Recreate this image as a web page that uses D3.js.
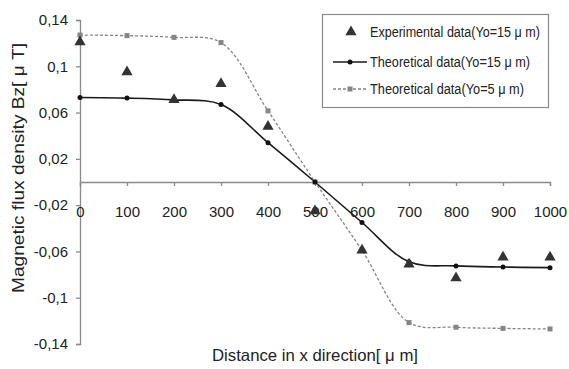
<!DOCTYPE html>
<html>
<head>
<meta charset="utf-8">
<script src="https://cdn.jsdelivr.net/npm/d3@7"></script>
<style>
  html, body { margin: 0; padding: 0; background: #fff; }
  svg text { font-family: "Liberation Sans", sans-serif; fill: #222; }
</style>
</head>
<body>
<div id="chart"></div>
<script>
// x positions (um)
const distances = [0, 100, 200, 300, 400, 500, 600, 700, 800, 900, 1000];

// Bz values (uT)
const experimental15 = [0.121, 0.095, 0.071, 0.085, 0.048, -0.025, -0.059, -0.071, -0.083, -0.065, -0.065];
const theoretical15 = [0.073, 0.0725, 0.071, 0.067, 0.034, 0, -0.035, -0.069, -0.0725, -0.0735, -0.074];
const theoretical5 = [0.127, 0.1265, 0.125, 0.1205, 0.0615, 0, -0.059, -0.1215, -0.1255, -0.1265, -0.127];

const yTicks = [0.14, 0.1, 0.06, 0.02, -0.02, -0.06, -0.1, -0.14];
const xTicks = [0, 100, 200, 300, 400, 500, 600, 700, 800, 900, 1000];

const legendLabels = [
    "Experimental data(Yo=15 \u03bc m)",
    "Theoretical data(Yo=15 \u03bc m)",
    "Theoretical data(Yo=5 \u03bc m)"
];

const width = 569;
const height = 369;
const margin = { top: 20, right: 19, bottom: 25, left: 80 };

const svg = d3.select("#chart")
    .append("svg")
    .attr("width", width)
    .attr("height", height);

const x = d3.scaleLinear()
    .domain([0, 1000])
    .range([margin.left, width - margin.right]);

const y = d3.scaleLinear()
    .domain([-0.14, 0.14])
    .range([height - margin.bottom, margin.top]);

const axisColor = "#8a8a8a";
const fmt = d => String(d).replace(".", ",");

// y axis on the left
const yAxis = svg.append("g")
    .attr("transform", `translate(${margin.left},0)`)
    .call(d3.axisLeft(y).tickValues(yTicks).tickFormat(fmt).tickSize(4).tickPadding(8));
yAxis.selectAll("text").style("font-size", "15px");

// x axis runs along the zero line, labels pushed below
const xAxis = svg.append("g")
    .attr("transform", `translate(0,${y(0)})`)
    .call(d3.axisBottom(x).tickValues(xTicks).tickFormat(d3.format("d")).tickSize(4).tickPadding(20));
xAxis.selectAll("text").style("font-size", "15px");

svg.selectAll(".domain, .tick line")
    .attr("stroke", axisColor)
    .attr("stroke-width", 1.3);

// lines
const line = d3.line()
    .x((d, i) => x(distances[i]))
    .y(d => y(d))
    .curve(d3.curveCatmullRom.alpha(0.5));

svg.append("path")
    .attr("d", line(theoretical5))
    .attr("fill", "none")
    .attr("stroke", "#858585")
    .attr("stroke-width", 1.3)
    .attr("stroke-dasharray", "3,2");

svg.append("path")
    .attr("d", line(theoretical15))
    .attr("fill", "none")
    .attr("stroke", "#1a1a1a")
    .attr("stroke-width", 1.6);

// markers
svg.selectAll(".sq")
    .data(theoretical5)
    .enter().append("rect")
    .attr("class", "sq")
    .attr("x", (d, i) => x(distances[i]) - 2.5)
    .attr("y", d => y(d) - 2.5)
    .attr("width", 5)
    .attr("height", 5)
    .attr("fill", "#858585");

svg.selectAll(".dot")
    .data(theoretical15)
    .enter().append("circle")
    .attr("class", "dot")
    .attr("cx", (d, i) => x(distances[i]))
    .attr("cy", d => y(d))
    .attr("r", 2.5)
    .attr("fill", "#111");

const tri = d3.symbol().type(d3.symbolTriangle).size(55);
svg.selectAll(".tri")
    .data(experimental15)
    .enter().append("path")
    .attr("class", "tri")
    .attr("transform", (d, i) => `translate(${x(distances[i])},${y(d)})`)
    .attr("d", tri)
    .attr("fill", "#333");

// axis titles
svg.append("text")
    .attr("transform", `translate(24,168) rotate(-90)`)
    .attr("text-anchor", "middle")
    .style("font-size", "16.5px")
    .attr("textLength", 250)
    .attr("lengthAdjust", "spacingAndGlyphs")
    .text("Magnetic flux density Bz[ \u03bc T]");

svg.append("text")
    .attr("x", 315)
    .attr("y", 361)
    .attr("text-anchor", "middle")
    .style("font-size", "16.5px")
    .attr("textLength", 206)
    .attr("lengthAdjust", "spacingAndGlyphs")
    .text("Distance in x direction[ \u03bc m]");

// legend
const legend = svg.append("g");
legend.append("rect")
    .attr("x", 322.5)
    .attr("y", 14.5)
    .attr("width", 226)
    .attr("height", 93)
    .attr("fill", "#fff")
    .attr("stroke", axisColor)
    .attr("stroke-width", 1.2);

const rows = [32, 62, 89];
const legendWidths = [170, 160, 154];
legendLabels.forEach((label, i) => {
    const ry = rows[i];
    if (i === 0) {
        legend.append("path")
            .attr("transform", `translate(351,${ry})`)
            .attr("d", tri)
            .attr("fill", "#333");
    } else if (i === 1) {
        legend.append("line")
            .attr("x1", 333).attr("x2", 367).attr("y1", ry).attr("y2", ry)
            .attr("stroke", "#1a1a1a").attr("stroke-width", 1.6);
        legend.append("circle")
            .attr("cx", 350).attr("cy", ry).attr("r", 2.5).attr("fill", "#111");
    } else {
        legend.append("line")
            .attr("x1", 333).attr("x2", 367).attr("y1", ry).attr("y2", ry)
            .attr("stroke", "#858585").attr("stroke-width", 1.3)
            .attr("stroke-dasharray", "3,2");
        legend.append("rect")
            .attr("x", 347.5).attr("y", ry - 2.5).attr("width", 5).attr("height", 5)
            .attr("fill", "#858585");
    }
    legend.append("text")
        .attr("x", 370)
        .attr("y", ry + 5)
        .style("font-size", "14px")
        .attr("textLength", legendWidths[i])
        .attr("lengthAdjust", "spacingAndGlyphs")
        .text(label);
});
</script>
</body>
</html>
